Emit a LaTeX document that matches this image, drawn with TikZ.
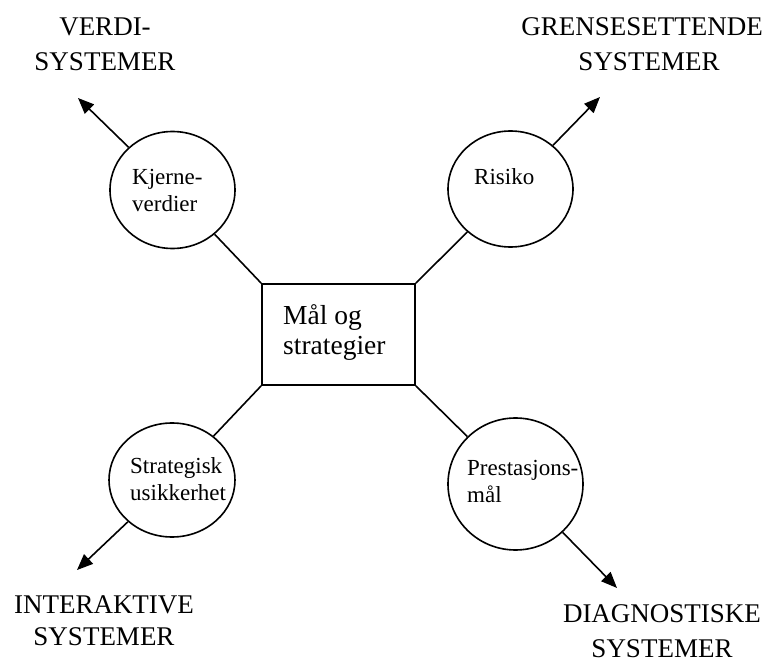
\documentclass[tikz,border=0pt]{standalone}
\usepackage{fontspec}
\setmainfont{Liberation Serif}
\usetikzlibrary{arrows.meta,shapes.geometric}
\begin{document}
\begin{tikzpicture}[x=1pt,y=-1pt,
  ring/.style={draw, ellipse, line width=1.6pt, inner sep=0pt},
  ctext/.style={font=\fontsize{23}{27}\selectfont, inner sep=0pt, anchor=base west, align=left},
  boxtext/.style={font=\fontsize{27.5}{30}\selectfont, inner sep=0pt, anchor=base west, align=left},
  syslabel/.style={font=\fontsize{27}{35}\selectfont, inner sep=0pt, anchor=base, align=center},
  link/.style={line width=1.6pt},
  outarrow/.style={line width=1.6pt, -{Triangle[length=16pt,width=13pt]}}
]
\useasboundingbox (0,0) rectangle (772,663);

% central box (multi-line texts are placed by the baseline of their last line)
\node[draw, line width=1.7pt, minimum width=153pt, minimum height=101pt, inner sep=0pt] (goal) at (338.5,334.5) {};
\node[boxtext] (goaltext) at (283,355) {Mål og\\strategier};

% the four circles
\node[ring, minimum width=125pt, minimum height=117pt] (core) at (172.5,190) {};
\node[ring, minimum width=125pt, minimum height=116pt] (risk) at (510.5,189) {};
\node[ring, minimum width=126pt, minimum height=114pt] (strat) at (172,480) {};
\node[ring, minimum width=135pt, minimum height=132pt] (perf) at (515.5,484) {};

\node[ctext] (coretext) at (132,212) {Kjerne-\\verdier};
\node[ctext] (risktext) at (474,185) {Risiko};
\node[ctext] (strattext) at (130,500) {Strategisk\\usikkerhet};
\node[ctext] (perftext) at (467,502) {Prestasjons-\\mål};

% links from the box corners
\draw[link] (goal.north west) -- (core);
\draw[link] (goal.north east) -- (risk);
\draw[link] (goal.south west) -- (strat);
\draw[link] (goal.south east) -- (perf);

% arrow tips
\coordinate (tipval) at (78,98);
\coordinate (tipbound) at (600,97);
\coordinate (tipinter) at (77,570);
\coordinate (tipdiag) at (617,588);

\draw[outarrow] (core) -- (tipval);
\draw[outarrow] (risk) -- (tipbound);
\draw[outarrow] (strat) -- (tipinter);
\draw[outarrow] (perf) -- (tipdiag);

% control system labels
\node[syslabel] (valsys) at (105,71) {VERDI-\\SYSTEMER};
\node[syslabel] (boundsys) at (642,71) {GRENSESETTENDE\\\hspace*{14pt}SYSTEMER};
\node[syslabel, font=\fontsize{27}{32}\selectfont] (intersys) at (104,645) {INTERAKTIVE\\SYSTEMER};
\node[syslabel] (diagsys) at (662,657) {DIAGNOSTISKE\\SYSTEMER};
\end{tikzpicture}
\end{document}
